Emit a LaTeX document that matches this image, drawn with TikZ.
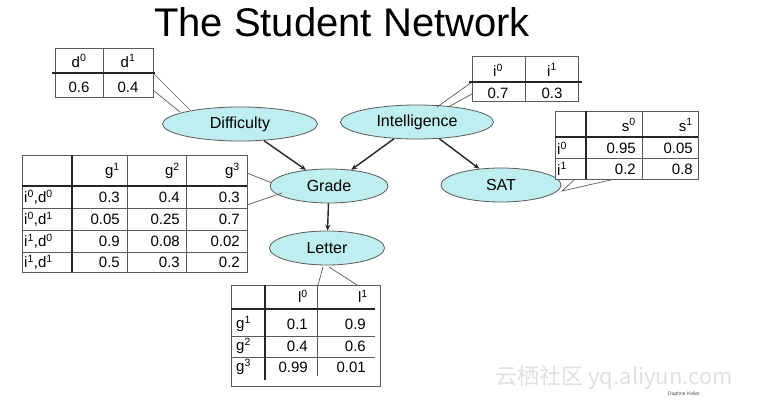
\documentclass[tikz,border=0pt]{standalone}
\usepackage{fontspec}
\setmainfont{Liberation Sans}
\newfontfamily\cjk{Noto Sans CJK SC}
\usetikzlibrary{shapes.geometric,arrows.meta}
\definecolor{nodefill}{RGB}{190,238,240}
\definecolor{tline}{RGB}{90,90,90}
\newcommand\cR[4]{\node[cell,anchor=east] (#1) at (#2,#3) {#4};}
\newcommand\cL[4]{\node[cell,anchor=west] (#1) at (#2,#3) {#4};}
\newcommand\cC[4]{\node[cell] (#1) at (#2,#3) {#4};}
\newcommand\sx[2]{#1\textsuperscript{#2}}
\begin{document}
\begin{tikzpicture}[x=1pt,y=-1pt,
  var/.style={ellipse,draw=tline,line width=0.8pt,fill=nodefill,minimum height=34pt,inner sep=0pt,font=\fontsize{16}{16}\selectfont},
  cell/.style={inner sep=0pt,font=\fontsize{15}{15}\selectfont},
  box/.style={draw=tline,line width=0.9pt,fill=white},
  rl/.style={draw=tline,line width=0.6pt},
  tk/.style={draw=black!85,line width=1.8pt},
  co/.style={draw=tline,line width=0.7pt},
  edge/.style={draw=black!85,line width=1.4pt,-{Stealth[length=6pt,width=5pt]}}]
\useasboundingbox (0,0) rectangle (766,404);
\node[font=\fontsize{40}{40}\selectfont] (title) at (342,22) {The Student Network};
% nodes
\node[var,minimum width=155pt] (D) at (240,124) {Difficulty};
\node[var,minimum width=153pt] (I) at (417,122) {Intelligence};
\node[var,minimum width=118pt] (G) at (329,186) {Grade};
\node[var,minimum width=120pt] (S) at (501,185) {SAT};
\node[var,minimum width=115pt] (L) at (327,248) {Letter};
\draw[edge] (D) -- (G);
\draw[edge] (I) -- (G);
\draw[edge] (I) -- (S);
\draw[edge] (G) -- (L);
% callout coordinates
\coordinate (dA) at (153,73); \coordinate (dB) at (153,90);
\coordinate (dT) at (190,110); \coordinate (dU) at (180,112);
\draw[co] (dA) -- (dT); \draw[co] (dB) -- (dU);
\coordinate (iA) at (472,82); \coordinate (iB) at (472,94);
\coordinate (iT) at (437,107); \coordinate (iU) at (450,106);
\draw[co] (iA) -- (iT); \draw[co] (iB) -- (iU);
\coordinate (sA) at (575,179); \coordinate (sB) at (615,179);
\coordinate (sT) at (562,191);
\draw[co] (sA) -- (sT) -- (sB);
\coordinate (gA) at (247,173); \coordinate (gB) at (247,205);
\coordinate (gT) at (272,183); \coordinate (gU) at (282,193);
\draw[co] (gA) -- (gT); \draw[co] (gB) -- (gU);
\coordinate (lA) at (318,285); \coordinate (lB) at (357,285);
\coordinate (lT) at (323,267); \coordinate (lU) at (329,267);
\draw[co] (lA) -- (lT); \draw[co] (lB) -- (lU);
% Difficulty CPT
\draw[box] (55,48) rectangle (153,97);
\draw[rl] (103,48) -- (103,97);
\draw[tk] (52,73) -- (155,73);
\cC{d0}{79}{61}{\sx{d}{0}} \cC{d1}{128}{61}{\sx{d}{1}}
\cC{dv0}{79}{87}{0.6} \cC{dv1}{128}{87}{0.4}
% Intelligence CPT
\draw[box] (472,56) rectangle (578,101);
\draw[rl] (525,56) -- (525,101);
\draw[tk] (469,82) -- (582,82);
\cC{i0}{498}{70}{\sx{i}{0}} \cC{i1}{552}{70}{\sx{i}{1}}
\cC{iv0}{498}{93}{0.7} \cC{iv1}{552}{93}{0.3}
% SAT CPT
\draw[box] (555,111) rectangle (698,179);
\draw[rl] (642,111) -- (642,179);
\draw[rl] (555,158) -- (698,158);
\draw[tk] (586,111) -- (586,179);
\draw[tk] (555,137) -- (698,137);
\cR{s0}{636}{125}{\sx{s}{0}} \cR{s1}{693}{125}{\sx{s}{1}}
\cL{sr0}{557}{148}{\sx{i}{0}} \cL{sr1}{557}{169}{\sx{i}{1}}
\cR{s00}{636}{148}{0.95} \cR{s01}{693}{148}{0.05}
\cR{s10}{636}{169}{0.2} \cR{s11}{693}{169}{0.8}
% Grade CPT
\draw[box] (22,155) rectangle (247,272);
\draw[rl] (127,155) -- (127,272);
\draw[rl] (186,155) -- (186,272);
\draw[rl] (22,208) -- (247,208);
\draw[rl] (22,230) -- (247,230);
\draw[rl] (22,252) -- (247,252);
\draw[tk] (72,155) -- (72,272);
\draw[tk] (22,186) -- (247,186);
\cR{g1}{120}{171}{\sx{g}{1}} \cR{g2}{180}{171}{\sx{g}{2}} \cR{g3}{240}{171}{\sx{g}{3}}
\cL{gr1}{24}{197}{\sx{i}{0},\sx{d}{0}}
\cL{gr2}{24}{219}{\sx{i}{0},\sx{d}{1}}
\cL{gr3}{24}{241}{\sx{i}{1},\sx{d}{0}}
\cL{gr4}{24}{262}{\sx{i}{1},\sx{d}{1}}
\cR{g11}{120}{197}{0.3} \cR{g12}{180}{197}{0.4} \cR{g13}{240}{197}{0.3}
\cR{g21}{120}{219}{0.05} \cR{g22}{180}{219}{0.25} \cR{g23}{240}{219}{0.7}
\cR{g31}{120}{241}{0.9} \cR{g32}{180}{241}{0.08} \cR{g33}{240}{241}{0.02}
\cR{g41}{120}{262}{0.5} \cR{g42}{180}{262}{0.3} \cR{g43}{240}{262}{0.2}
% Letter CPT
\draw[box] (231,285) rectangle (380,386);
\draw[rl] (317,285) -- (317,376);
\draw[rl] (231,336) -- (375,336);
\draw[rl] (231,357) -- (375,357);
\draw[tk] (265,285) -- (265,380);
\draw[tk] (231,309) -- (375,309);
\cR{l0}{308}{296}{\sx{l}{0}} \cR{l1}{368}{296}{\sx{l}{1}}
\cL{lr1}{236}{324}{\sx{g}{1}} \cL{lr2}{236}{346}{\sx{g}{2}} \cL{lr3}{236}{367}{\sx{g}{3}}
\cR{l11}{308}{324}{0.1} \cR{l12}{366}{324}{0.9}
\cR{l21}{308}{346}{0.4} \cR{l22}{366}{346}{0.6}
\cR{l31}{308}{367}{0.99} \cR{l32}{366}{367}{0.01}
% credits
\node[font=\fontsize{5}{5}\selectfont,text=black!70] (dk) at (684,394) {Daphne Koller};
\node[font=\cjk\fontsize{22}{22}\selectfont,text=black!12,anchor=west] (wm) at (492,378) {云栖社区 yq.aliyun.com};
\end{tikzpicture}
\end{document}
